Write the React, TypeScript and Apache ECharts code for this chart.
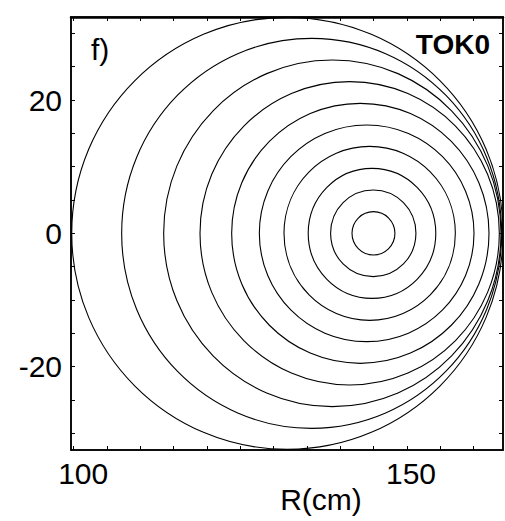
import React, { useEffect, useRef } from "react";
import * as echarts from "echarts";

// Flux-surface contours: centre R (cm), half-width and half-height (cm)
const surfaceCenterR = [144.97, 144.94, 144.75, 144.4, 143.95, 143.0, 141.4, 138.8, 135.7, 132.06];
const surfaceHalfWidth = [3.22, 6.4, 9.57, 12.85, 16.1, 19.3, 22.45, 25.3, 28.5, 32.35];
const surfaceHalfHeight = [3.25, 6.5, 9.75, 13.05, 16.25, 19.5, 22.75, 26.0, 29.25, 32.4];

const xTicks = [100, 105, 110, 115, 120, 125, 130, 135, 140, 145, 150, 155, 160];
const xLabels = [100, 150];
const yTicks = [-30, -25, -20, -15, -10, -5, 0, 5, 10, 15, 20, 25, 30];
const yLabels = [-20, 0, 20];

const FONT = "'Liberation Sans', Arial, Helvetica, sans-serif";

export default function App() {
  const ref = useRef<HTMLDivElement>(null);
  useEffect(() => {
    if (!ref.current) return;
    const chart = echarts.init(ref.current, undefined, { renderer: "svg" });
    const data = surfaceCenterR.map((r, i) => [r, 0, surfaceHalfWidth[i], surfaceHalfHeight[i]]);
    const lineStyle = { color: "#000", width: 1.5 };
    const tickStyle = { color: "#000", width: 1 };
    const xBase = {
      type: "value" as const,
      min: 99.6,
      max: 164.4,
      splitLine: { show: false },
      axisLine: { show: true, onZero: false, lineStyle },
      axisTick: { show: true, inside: true, length: 4, customValues: xTicks, lineStyle: tickStyle },
    };
    const yBase = {
      type: "value" as const,
      min: -32.5,
      max: 32.45,
      splitLine: { show: false },
      axisLine: { show: true, onZero: false, lineStyle },
      axisTick: { show: true, inside: true, length: 4, customValues: yTicks, lineStyle: tickStyle },
    };
    chart.setOption({
      animation: false,
      backgroundColor: "#fff",
      grid: {
        left: 71,
        right: 2,
        top: 17,
        bottom: 71,
        containLabel: false,
        outerBoundsMode: "none",
        show: true,
        borderColor: "#000",
        borderWidth: 1.5,
        backgroundColor: "transparent",
      },
      xAxis: [
        {
          ...xBase,
          position: "bottom",
          name: "R(cm)",
          nameLocation: "middle",
          nameGap: 34,
          nameMoveOverlap: false,
          nameTextStyle: { fontFamily: FONT, fontSize: 30, color: "#000", padding: [0, 0, 0, 68] },
          axisLabel: {
            show: true,
            customValues: xLabels,
            margin: 8,
            fontFamily: FONT,
            fontSize: 30,
            color: "#000",
            formatter: (v: number) => (v === 100 ? "{a|100}" : "{b|" + v + "}"),
            rich: {
              a: { fontFamily: FONT, fontSize: 30, color: "#000", padding: [0, 0, 0, 19] },
              b: { fontFamily: FONT, fontSize: 30, color: "#000", padding: [0, 0, 0, 8] },
            },
          },
        },
        {
          ...xBase,
          position: "top",
          axisLine: { show: true, onZero: false, lineStyle: { color: "#000", width: 2.5 } },
          axisLabel: { show: false },
        },
      ],
      yAxis: [
        {
          ...yBase,
          position: "left",
          axisLabel: {
            show: true,
            customValues: yLabels,
            margin: 9,
            fontFamily: FONT,
            fontSize: 30,
            color: "#000",
          },
        },
        {
          ...yBase,
          position: "right",
          axisLabel: { show: false },
        },
      ],
      graphic: [
        {
          type: "text",
          left: 91,
          top: 34,
          style: { text: "f)", fontFamily: FONT, fontSize: 30, fill: "#000" },
          z: 100,
        },
        {
          type: "text",
          right: 15,
          top: 30,
          style: { text: "TOK0", fontFamily: FONT, fontSize: 28, fontWeight: "bold", fill: "#000" },
          z: 100,
        },
      ],
      series: [
        {
          type: "custom",
          xAxisIndex: 0,
          yAxisIndex: 0,
          clip: true,
          encode: { x: 0, y: 1 },
          data,
          renderItem: (_params: any, api: any) => {
            const c = api.coord([api.value(0), api.value(1)]);
            const s = api.size([api.value(2), api.value(3)]);
            return {
              type: "ellipse",
              shape: { cx: c[0], cy: c[1], rx: s[0], ry: s[1] },
              style: { fill: "none", stroke: "#000", lineWidth: 1.1 },
            };
          },
        },
      ],
    });
    return () => chart.dispose();
  }, []);
  return (
    <div
      ref={ref}
      style={{ position: "fixed", left: 0, top: 0, width: 505, height: 521, background: "#fff" }}
    />
  );
}
